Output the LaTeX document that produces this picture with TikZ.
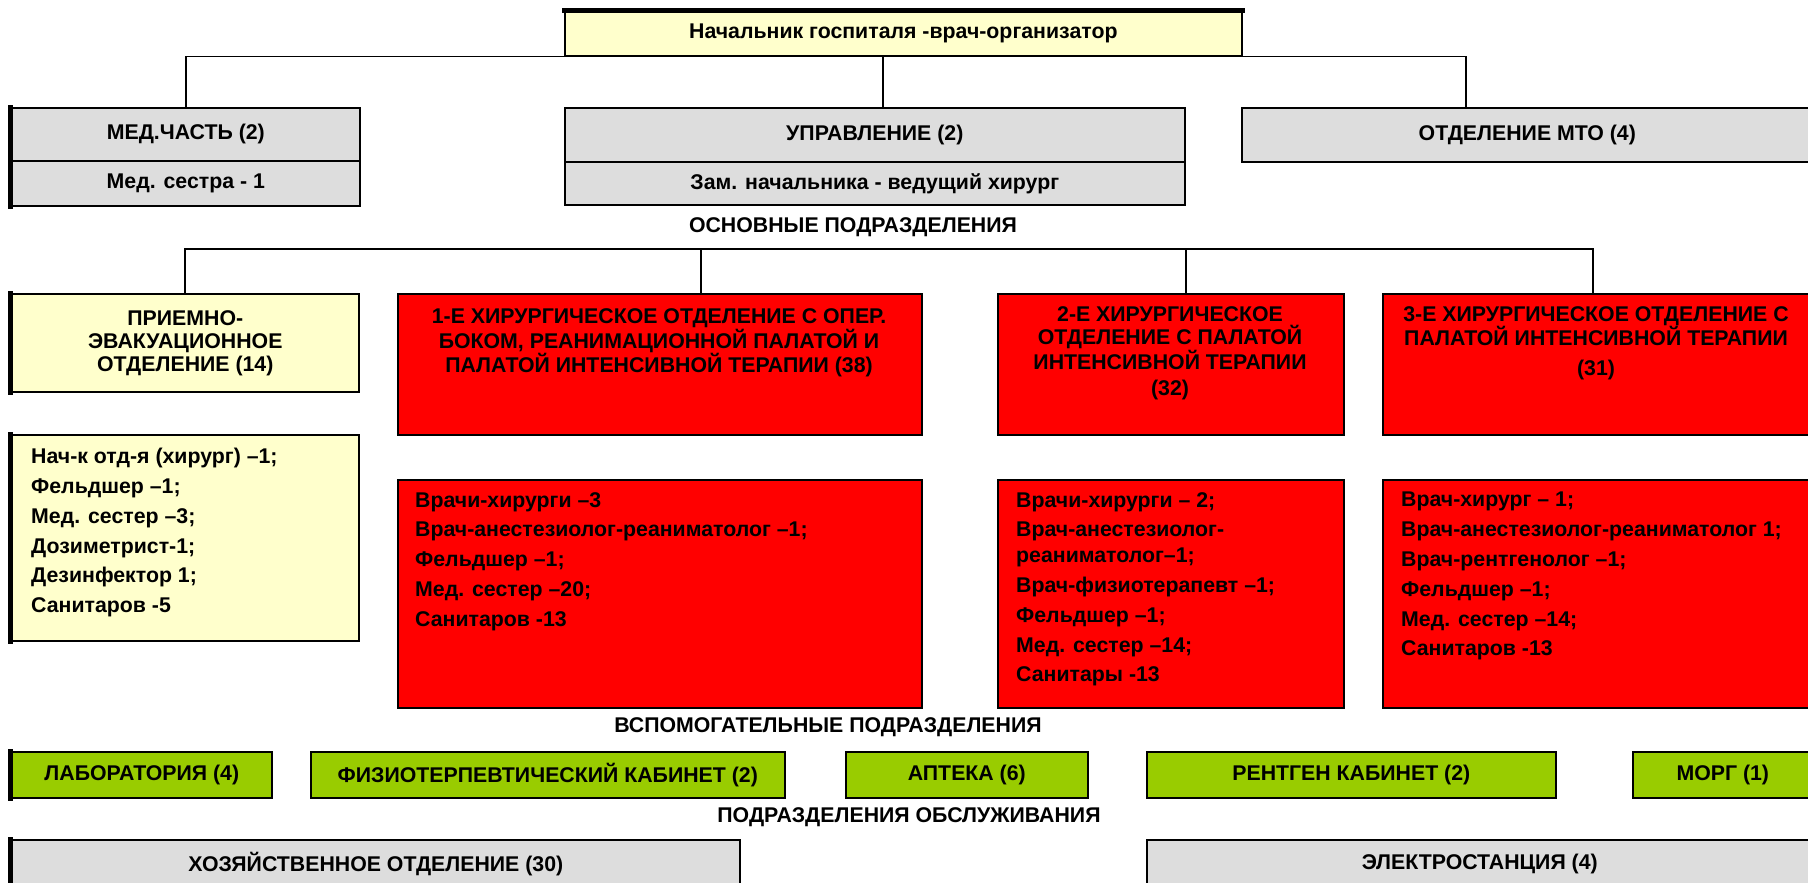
\documentclass[tikz,border=0pt]{standalone}
\usepackage{fontspec}
\setmainfont{Liberation Sans}
\definecolor{ylw}{HTML}{FFFFCC}
\definecolor{gry}{HTML}{DDDDDD}
\definecolor{rd}{HTML}{FF0000}
\definecolor{grn}{HTML}{99CC00}
\begin{document}
\begin{tikzpicture}[x=1pt,y=-1pt,
  every node/.style={font=\bfseries\fontsize{21.3}{23}\selectfont},
  box/.style={draw=black, line width=1.6pt, inner sep=0pt, anchor=north west, align=center},
  ybox/.style={box, fill=ylw},
  gbox/.style={box, fill=gry},
  rbox/.style={box, fill=rd},
  grbox/.style={box, fill=grn},
  conn/.style={draw=black, line width=1.8pt},
  thickbar/.style={line width=5pt, line cap=rect},
  hdr/.style={align=center, inner sep=0pt, anchor=north, font=\bfseries\fontsize{21.3}{23.5}\selectfont},
  staff/.style={align=left, inner sep=0pt, anchor=north west, font=\bfseries\fontsize{21.3}{29.8}\selectfont},
  sect/.style={inner sep=0pt}]
\useasboundingbox (0,0) rectangle (1808,883);
\fill[white] (0,0) rectangle (1808,883);

% top level
\node[ybox, minimum width=677, minimum height=44] (top) at (564,11) {Начальник госпиталя -врач-организатор};
\node[gbox, minimum width=348, minimum height=53] (med) at (11,107) {МЕД.ЧАСТЬ (2)};
\node[gbox, minimum width=348, minimum height=45] (medsub) at (11,160) {Мед. сестра - 1};
\node[gbox, minimum width=620, minimum height=54] (upr) at (564,107) {УПРАВЛЕНИЕ (2)};
\node[gbox, minimum width=620, minimum height=43] (uprsub) at (564,161) {Зам. начальника - ведущий хирург};
\node[gbox, minimum width=571, minimum height=54] (mto) at (1241,107) {ОТДЕЛЕНИЕ МТО (4)};

\node[sect] (osn) at (853,227) {ОСНОВНЫЕ ПОДРАЗДЕЛЕНИЯ};

% main departments
\node[ybox, minimum width=347, minimum height=98, font=\bfseries\fontsize{21.3}{23}\selectfont] (priem) at (11,293) {ПРИЕМНО-\\ЭВАКУАЦИОННОЕ\\ОТДЕЛЕНИЕ (14)};
\node[rbox, minimum width=524, minimum height=141] (s1) at (397,293) {};
\node[rbox, minimum width=346, minimum height=141] (s2) at (997,293) {};
\node[rbox, minimum width=430, minimum height=141] (s3) at (1382,293) {};
\node[hdr] (t1) at (659,308.5) {1-Е ХИРУРГИЧЕСКОЕ ОТДЕЛЕНИЕ С ОПЕР.\\БОКОМ, РЕАНИМАЦИОННОЙ ПАЛАТОЙ И\\ПАЛАТОЙ ИНТЕНСИВНОЙ ТЕРАПИИ (38)};
\node[hdr] (t2) at (1170,306) {2-Е ХИРУРГИЧЕСКОЕ\\ОТДЕЛЕНИЕ С ПАЛАТОЙ\\ИНТЕНСИВНОЙ ТЕРАПИИ\\[3pt](32)};
\node[hdr] (t3) at (1596,306) {3-Е ХИРУРГИЧЕСКОЕ ОТДЕЛЕНИЕ С\\ПАЛАТОЙ ИНТЕНСИВНОЙ ТЕРАПИИ\\[6pt](31)};

% staff
\node[ybox, minimum width=347, minimum height=206] (priemst) at (11,434) {};
\node[rbox, minimum width=524, minimum height=228] (s1st) at (397,479) {};
\node[rbox, minimum width=346, minimum height=228] (s2st) at (997,479) {};
\node[rbox, minimum width=430, minimum height=228] (s3st) at (1382,479) {};
\node[staff] (st0) at (31,448) {Нач-к отд-я (хирург) –1;\\Фельдшер –1;\\Мед. сестер –3;\\Дозиметрист-1;\\Дезинфектор 1;\\Санитаров -5};
\node[staff] (st1) at (415,492) {Врачи-хирурги –3\\Врач-анестезиолог-реаниматолог –1;\\Фельдшер –1;\\Мед. сестер –20;\\Санитаров -13};
\node[staff] (st2) at (1016,492) {Врачи-хирурги – 2;\\Врач-анестезиолог-\\[-4pt]реаниматолог–1;\\Врач-физиотерапевт –1;\\Фельдшер –1;\\Мед. сестер –14;\\Санитары -13};
\node[staff] (st3) at (1401,492) {Врач-хирург – 1;\\Врач-анестезиолог-реаниматолог 1;\\Врач-рентгенолог –1;\\Фельдшер –1;\\Мед. сестер –14;\\Санитаров -13};

% auxiliary
\node[sect] (vsp) at (828,727) {ВСПОМОГАТЕЛЬНЫЕ ПОДРАЗДЕЛЕНИЯ};
\node[grbox, minimum width=260, minimum height=46] (lab) at (11,751) {ЛАБОРАТОРИЯ (4)};
\node[grbox, minimum width=474, minimum height=46] (fizio) at (310,751) {ФИЗИОТЕРПЕВТИЧЕСКИЙ КАБИНЕТ (2)};
\node[grbox, minimum width=242, minimum height=46] (apteka) at (845,751) {АПТЕКА (6)};
\node[grbox, minimum width=409, minimum height=46] (rentgen) at (1146,751) {РЕНТГЕН КАБИНЕТ (2)};
\node[grbox, minimum width=180, minimum height=46] (morg) at (1632,751) {МОРГ (1)};

% service
\node[sect] (obsl) at (909,817) {ПОДРАЗДЕЛЕНИЯ ОБСЛУЖИВАНИЯ};
\node[gbox, minimum width=728, minimum height=48] (hoz) at (11,839) {ХОЗЯЙСТВЕННОЕ ОТДЕЛЕНИЕ (30)};
\node[gbox, minimum width=666, minimum height=48] (elektro) at (1146,839) {ЭЛЕКТРОСТАНЦИЯ (4)};

% thick bars
\draw[thickbar] (top.north west) -- (top.north east);
\draw[thickbar] ([xshift=-1pt]med.north west) -- ([xshift=-1pt]medsub.south west);
\draw[thickbar] ([xshift=-1pt]priem.north west) -- ([xshift=-1pt]priem.south west);
\draw[thickbar] ([xshift=-1pt]priemst.north west) -- ([xshift=-1pt]priemst.south west);
\draw[thickbar] ([xshift=-1pt]lab.north west) -- ([xshift=-1pt]lab.south west);
\draw[thickbar] ([xshift=-1pt]hoz.north west) -- ([xshift=-1pt]hoz.south west);

% connectors
\coordinate (uprin) at (883,107);
\coordinate (mtoin) at (1466,107);
\draw[conn] (med.north) |- (top.south west);
\draw[conn] (top.south east) -| (mtoin);
\draw[conn] (uprin) -- (uprin |- top.south);
\coordinate (busR) at (1593,249);
\coordinate (s1in) at (701,293);
\coordinate (s2in) at (1186,293);
\coordinate (s3in) at (1593,293);
\draw[conn] (priem.north) |- (busR) -- (s3in);
\draw[conn] (s1in) -- (s1in |- busR);
\draw[conn] (s2in) -- (s2in |- busR);
\end{tikzpicture}
\end{document}
